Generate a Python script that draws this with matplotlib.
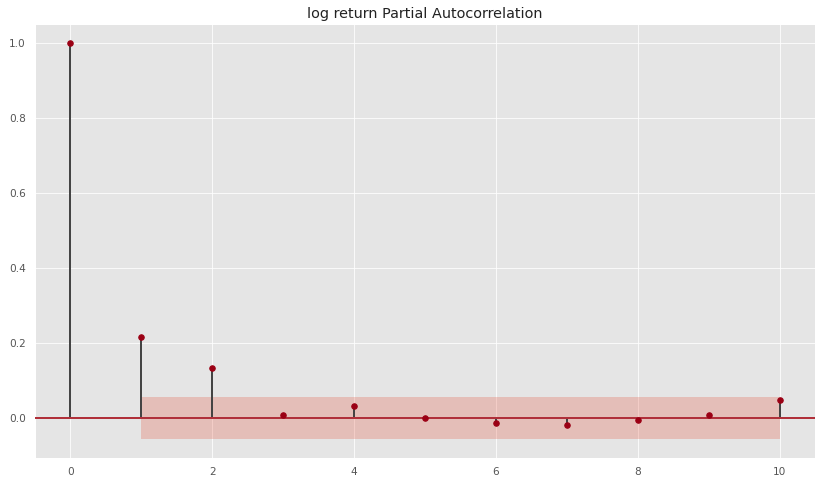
import matplotlib
matplotlib.use("Agg")
import matplotlib.pyplot as plt
import numpy as np

plt.style.use("ggplot")

lags = [0, 1, 2, 3, 4, 5, 6, 7, 8, 9, 10]
pacf_vals = [1.0, 0.216, 0.133, 0.007, 0.031, -0.001, -0.014, -0.019, -0.006, 0.007, 0.047]
conf_lags = [1, 2, 3, 4, 5, 6, 7, 8, 9, 10]
conf_half = [0.056] * 10
title = "log return Partial Autocorrelation"

fig = plt.figure(figsize=(828 / 72, 485 / 72), dpi=72)
ax = fig.add_axes([35 / 828, 1 - 458 / 485, 780 / 828, 434 / 485])

ax.vlines(lags, [0], pacf_vals, colors="#444444", linewidth=2, zorder=2)
ax.axhline(0, color="#b0303a", linewidth=2, zorder=3)
ax.plot(lags, pacf_vals, marker="o", markersize=5.5, linestyle="None",
        color="#9b0014", zorder=4)
ch = np.array(conf_half)
ax.fill_between(conf_lags, -ch, ch, color="#E24A33", alpha=0.25, linewidth=0, zorder=1)

ax.set_xlim(-0.5, 10.5)
ax.set_ylim(-0.107, 1.051)
ax.set_xticks([0, 2, 4, 6, 8, 10])
ax.set_yticks([0.0, 0.2, 0.4, 0.6, 0.8, 1.0])
ax.tick_params(axis="both", length=0, labelsize=10.5, colors="#555555", pad=9)
ax.set_title(title, fontsize=14.4, color="#222222", pad=6)

fig.savefig("out.png", dpi=72)
